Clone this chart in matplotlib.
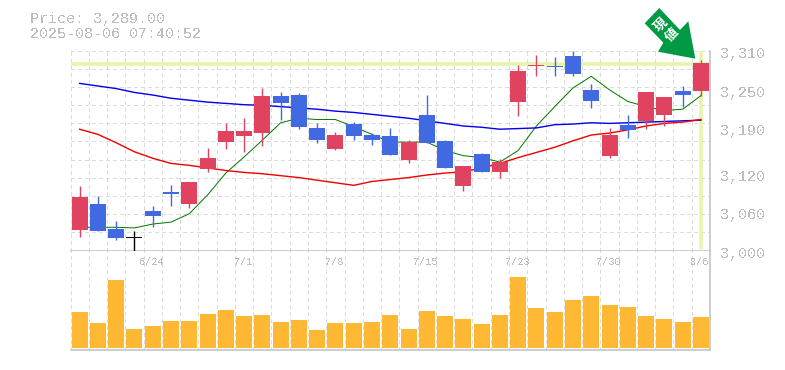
"""
Candlestick chart with moving averages and a volume panel
"""

from matplotlib import pyplot as plt
from matplotlib.patches import Polygon

# --------------------------------------------------------------------------------------------------
# Data
# --------------------------------------------------------------------------------------------------

highs = [3100, 3084, 3045, 3030, 3069, 3102, 3106, 3159, 3198, 3206, 3252, 3246, 3244, 3198, 3184, 3199, 3182, 3190,
         3171, 3241, 3171, 3131, 3151, 3142, 3288, 3303, 3300, 3310, 3258, 3190, 3210, 3244, 3238, 3255, 3295]
opens = [3032, 3031, 3020, 3020, 3053, 3087, 3072, 3126, 3168, 3178, 3182, 3240, 3241, 3190, 3157, 3196, 3179, 3177,
         3140, 3210, 3170, 3100, 3150, 3122, 3230, 3286, 3286, 3301, 3249, 3146, 3195, 3201, 3210, 3247, 3248]
closes = [3083, 3072, 3034, 3021, 3061, 3090, 3106, 3144, 3185, 3185, 3240, 3229, 3191, 3172, 3179, 3177, 3171, 3148,
          3168, 3167, 3128, 3131, 3122, 3137, 3278, 3287, 3285, 3274, 3232, 3179, 3187, 3245, 3238, 3241, 3291]
lows = [3021, 3031, 3017, 3000, 3037, 3069, 3066, 3121, 3157, 3153, 3162, 3202, 3188, 3167, 3156, 3171, 3163, 3148,
        3135, 3167, 3128, 3092, 3122, 3112, 3208, 3270, 3271, 3271, 3221, 3143, 3174, 3188, 3193, 3222, 3239]
ups = [1, 0, 0, 2, 0, 0, 1, 1, 1, 1, 1, 0, 0, 0, 1, 0, 0, 0,
       1, 0, 0, 1, 0, 1, 1, 1, 0, 0, 0, 1, 0, 1, 1, 0, 1]   # 1 up, 0 down, 2 unchanged

ma_short = [3036, 3036, 3036, 3035, 3041, 3044, 3057, 3086, 3120, 3145, 3171, 3198, 3205, 3203, 3203, 3192, 3180, 3168,
            3168, 3168, 3155, 3147, 3144, 3137, 3155, 3193, 3223, 3252, 3270, 3249, 3231, 3223, 3217, 3219, 3240]
ma_mid = [3188, 3180, 3167, 3153, 3143, 3135, 3132, 3128, 3124, 3121, 3119, 3116, 3113, 3109, 3105, 3101, 3107, 3110,
          3113, 3117, 3120, 3122, 3128, 3135, 3144, 3152, 3160, 3170, 3179, 3182, 3187, 3193, 3197, 3199, 3203]
ma_long = [3259, 3255, 3251, 3245, 3241, 3236, 3233, 3230, 3228, 3226, 3225, 3223, 3221, 3219, 3216, 3214, 3211, 3208,
           3205, 3201, 3197, 3193, 3191, 3188, 3189, 3190, 3195, 3196, 3198, 3197, 3198, 3199, 3200, 3201, 3202]

volumes = [36, 25, 68, 19, 22, 27, 27, 34, 38, 32, 33, 26, 28, 18, 25, 25, 26, 33,
           19, 37, 32, 29, 24, 33, 71, 40, 36, 48, 52, 43, 41, 32, 29, 26, 31]

date_ticks = [4, 9, 14, 19, 24, 29, 34]
date_labels = ['6/24', '7/1', '7/8', '7/15', '7/23', '7/30', '8/6']
price_labels = ['3,310', '3,250', '3,190', '3,120', '3,060', '3,000']
price_ticks = [3310, 3250, 3190, 3120, 3060, 3000]
last_price = 3289

# --------------------------------------------------------------------------------------------------
# Figure layout, all in pixels of a 785x370 image
# --------------------------------------------------------------------------------------------------

W, H = 785, 370
PX = 0.72   # One pixel in points at 100 dpi
plt.rcParams['font.family'] = ['Liberation Mono', 'DejaVu Sans Mono']
plt.rcParams['text.antialiased'] = False

GRID = '#dcdcdc'
EDGE = '#c0c0c0'
TEXT = '#bdbdbd'
RED = '#e0435f'
BLUE = '#4169e1'
ORANGE = '#ffb833'
CROSS = '#e6f5aa'

fig = plt.figure(figsize=(W / 100, H / 100), dpi=100)


def axes_px(left, top, right, bottom):
    return fig.add_axes([left / W, 1 - bottom / H, (right - left) / W, (bottom - top) / H])


ax = axes_px(70.5, 50.5, 710, 250.5)
ax_vol = axes_px(70.5, 250.5, 710, 350)
n = len(closes)

for a in (ax, ax_vol):
    a.set_xlim(-0.5, n - 0.5)
    a.set_xticks([i - 0.5 for i in range(n + 1)])
    a.tick_params(length=0, labelbottom=False, labelleft=False)
    a.grid(axis='x', color=GRID, linestyle=(0, (4, 3)), linewidth=PX, antialiased=False)
    a.set_axisbelow(True)
    for s in a.spines.values():
        s.set_visible(False)
    a.spines['right'].set_visible(True)
    a.spines['bottom'].set_visible(True)
    a.spines['right'].set_color(EDGE)
    a.spines['bottom'].set_color(EDGE)
    a.spines['right'].set_linewidth(1.1)
    a.spines['bottom'].set_linewidth(1.1)

# Price panel
ax.set_ylim(3000, 3310)
ax.set_yticks([3000 + i * 310 / 11 for i in range(12)])
ax.grid(axis='y', color=GRID, linestyle=(0, (4, 3)), linewidth=PX, antialiased=False)

ax.axhline(last_price, color=CROSS, linewidth=3.6 * PX, zorder=1)
ax.plot([n - 1, n - 1], [3003, 3310], color=CROSS, linewidth=3.6 * PX, zorder=1, solid_capstyle='butt')

x = list(range(n))
ax.plot(x, ma_short, color='#007a00', linewidth=PX, zorder=2)
ax.plot(x, ma_long, color='#0000f0', linewidth=1.4 * PX, zorder=2)
ax.plot(x, ma_mid, color='#f00000', linewidth=1.4 * PX, zorder=2)

colors = {1: RED, 0: BLUE, 2: 'black'}
for i in x:
    c = colors[ups[i]]
    ax.vlines(i, lows[i], highs[i], color=c, linewidth=1.4 * PX, zorder=3)
    ax.bar(i, closes[i] - opens[i], bottom=opens[i], width=0.875, color=c, linewidth=0, zorder=4)

for tick, label in zip(price_ticks, price_labels):
    y = 253 + (3000 - tick) * 200 / 310
    fig.text(720 / W, 1 - (y + 1) / H, label, fontsize=10.8, color=TEXT, ha='left', va='center')

# Volume panel
ax_vol.set_ylim(-2, 98)
ax_vol.bar(x, volumes, width=0.875, color=ORANGE, linewidth=0, zorder=3)
for tick, label in zip(date_ticks, date_labels):
    fig.text((ax_vol.transData.transform((tick, 0))[0] - 1) / W, 1 - 262 / H, label, fontsize=7.4,
             color=TEXT, ha='center', va='center')

# Header text
fig.text(30 / W, 1 - 18.5 / H, 'Price: 3,289.00', fontsize=10.8, color=TEXT, ha='left', va='center')
fig.text(30 / W, 1 - 33.5 / H, '2025-08-06 07:40:52', fontsize=10.8, color=TEXT, ha='left', va='center')

# Green arrow pointing at the last candle, with its two characters stacked along the shaft
arrow_px = [(659.3, 8), (644.7, 23.3), (663.3, 42.7), (658, 51.7), (695.3, 58.7), (688.3, 21.3), (680, 30)]
fig.add_artist(Polygon([(px / W, 1 - py / H) for px, py in arrow_px], closed=True, facecolor='#009944',
                       edgecolor='none', transform=fig.transFigure, zorder=5))
for ch, (cx, cy) in zip('現値', [(661, 24.5), (672, 35)]):
    fig.text(cx / W, 1 - cy / H, ch, fontsize=9.5, color='white', fontweight='bold', rotation=45,
             rotation_mode='anchor', ha='center', va='center', family=['Noto Sans CJK JP'], zorder=6,
             antialiased=True)

fig.savefig('out.png', dpi=100)
